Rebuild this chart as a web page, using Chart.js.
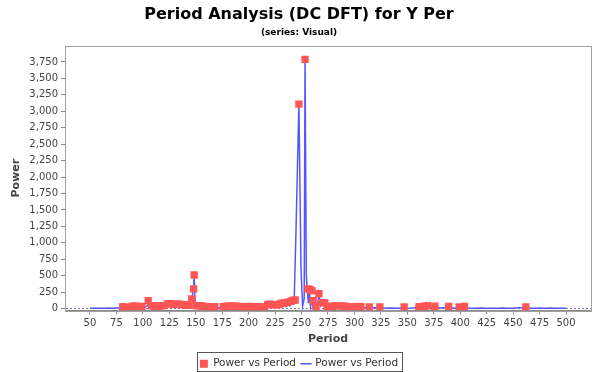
<!DOCTYPE html>
<html>
<head>
<meta charset="utf-8">
<script src="https://cdn.jsdelivr.net/npm/chart.js@4.4.1/dist/chart.umd.min.js"></script>
<style>
html,body{margin:0;padding:0;background:#fff;}
#wrap{width:600px;height:372px;position:relative;}
</style>
</head>
<body>
<div id="wrap"><canvas id="c" width="600" height="372"></canvas></div>
<script>
// ---- data ----
const chartTitle = "Period Analysis (DC DFT) for Y Per";
const chartSubtitle = "(series: Visual)";
const seriesLabel = "Power vs Period";

// red square points
const pointPeriods = [81,84,90,93,96,99,105,108,111,114,117,120,123,126,129,132,135,138,141,143,146.1,148,148.5,150,153,156,159,162,165,168,
  176,179,182,185,188,191,194,197,200,203,206,209,212,215,218,220,222,224,226,228,230,232,234,237,240,242,244,247.5,253.3,
  256,258,259.8,261,263.6,266.4,269.2,272,274,279,282,285,288,291,294,300,303,306,314,324,347,361,366,369,376,389,399,404,462];
const pointPower = [28,22,35,38,30,32,120,45,35,40,38,45,70,72,60,70,65,55,50,55,147,300,510,45,40,38,32,30,30,28,
  30,35,40,38,35,33,30,30,32,30,30,30,28,30,60,65,60,60,55,60,75,80,85,95,110,125,130,3110,3790,
  300,290,270,120,30,225,90,85,30,35,40,40,40,35,30,30,32,30,25,25,25,28,35,42,35,32,25,32,25];

// blue line points
const linePeriods = [50,53,56,59,62,65,68,71,74,77,80,83,86,89,92,95,98,101,104,106,108,111,114,117,120,123,126,129,132,135,138,141,143,145,
  146.1,148,148.5,149.5,151,153,156,159,162,165,168,171,173,176,179,182,185,188,191,194,197,200,203,206,209,212,215,218,221,224,227,229,
  231,233,235,237,239,241,243,244.7,247.5,249.5,251,252.5,253.3,254.5,255.5,256.5,257.5,258.5,259.5,261,262,263.5,265,266.4,268,270,272,
  274,276,279,282,285,288,291,294,297,300,303,306,310,314,318,322,326,330,335,340,345,350,355,360,365,370,375,380,385,390,395,400,405,
  410,415,420,425,430,435,440,445,450,455,460,465,470,475,480,485,490,495,500];
const linePower = [4,3,5,4,6,5,8,6,9,7,12,9,14,10,16,12,18,14,40,90,30,18,22,15,25,30,40,28,35,30,25,20,30,45,
  147,300,510,45,25,18,22,15,20,12,18,5,10,15,20,14,22,16,20,15,22,14,18,12,16,10,14,30,20,35,25,40,
  20,45,30,60,40,80,110,1150,3110,600,40,150,3790,500,270,80,250,30,120,20,60,10,30,220,40,80,20,
  50,10,25,15,20,12,18,10,15,12,14,8,12,6,10,8,12,6,8,5,9,6,8,12,15,18,10,8,12,10,6,10,12,
  6,5,8,4,6,5,8,4,6,10,12,6,4,7,5,8,6,4,3];

const xTicks = [50,75,100,125,150,175,200,225,250,275,300,325,350,375,400,425,450,475,500];
const yTicks = [0,250,500,750,1000,1250,1500,1750,2000,2250,2500,2750,3000,3250,3500,3750];

const FONT = "'DejaVu Sans', sans-serif";

const plotBorder = {
  id: 'plotBorder',
  afterDraw(chart) {
    const a = chart.chartArea, ctx = chart.ctx;
    ctx.save();
    ctx.strokeStyle = '#a0a0a0';
    ctx.lineWidth = 1;
    ctx.strokeRect(Math.round(a.left) + 0.5, Math.round(a.top) + 0.5, Math.round(a.right - a.left), Math.round(a.bottom - a.top));
    ctx.restore();
  }
};
const legendBorder = {
  id: 'legendBorder',
  afterDraw(chart) {
    const boxes = chart.legend && chart.legend.legendHitBoxes;
    if (!boxes || !boxes.length) return;
    let l = Infinity, t = Infinity, r = -Infinity, b = -Infinity;
    boxes.forEach(h => { l = Math.min(l, h.left); t = Math.min(t, h.top); r = Math.max(r, h.left + h.width); b = Math.max(b, h.top + h.height); });
    const cy = (t + b) / 2;
    const ctx = chart.ctx;
    ctx.save();
    ctx.strokeStyle = '#555';
    ctx.lineWidth = 1;
    ctx.strokeRect(Math.round(l - 3) + 0.5, Math.round(cy - 12) + 0.5, Math.round(r - l + 7), 19);
    ctx.restore();
  }
};

new Chart(document.getElementById('c'), {
  type: 'line',
  data: {
    datasets: [
      {
        label: seriesLabel,
        type: 'scatter',
        data: pointPeriods.map((p, i) => ({x: p, y: pointPower[i]})),
        pointStyle: 'rect',
        pointRadius: 5.2,
        pointHoverRadius: 5.2,
        backgroundColor: '#ff5555',
        borderColor: '#ff5555',
        borderWidth: 0,
        showLine: false
      },
      {
        label: seriesLabel,
        type: 'line',
        data: linePeriods.map((p, i) => ({x: p, y: linePower[i]})),
        borderColor: '#5555ff',
        backgroundColor: '#5555ff',
        borderWidth: 1.5,
        pointRadius: 0,
        pointStyle: 'line',
        tension: 0,
        fill: false
      }
    ]
  },
  options: {
    responsive: false,
    animation: false,
    layout: {padding: {left: 7, right: 9, top: 0, bottom: -7}},
    plugins: {
      title: {display: true, text: chartTitle, color: '#000', font: {family: FONT, size: 16, weight: 'bold'}, padding: {top: 5, bottom: 3}},
      subtitle: {display: true, text: chartSubtitle, color: '#000', font: {family: FONT, size: 9, weight: 'bold'}, padding: {top: 0, bottom: 8}},
      legend: {
        position: 'bottom',
        labels: {usePointStyle: true, boxWidth: 8, boxHeight: 8, color: '#333', font: {family: FONT, size: 10.5}, padding: 6}
      },
      tooltip: {enabled: false}
    },
    scales: {
      x: {
        type: 'linear',
        min: 26.4, max: 523.6,
        afterBuildTicks: s => { s.ticks = xTicks.map(v => ({value: v})); },
        afterFit: s => { s.height = 42; },
        ticks: {color: '#444', font: {family: FONT, size: 10}, padding: 3, maxRotation: 0, autoSkip: false},
        grid: {drawOnChartArea: false, tickLength: 4, color: '#888'},
        border: {color: '#888'},
        title: {display: true, text: 'Period', color: '#444', font: {family: FONT, size: 11, weight: 'bold'}, padding: {top: 0, bottom: 7}}
      },
      y: {
        type: 'linear',
        min: -30, max: 3993,
        afterBuildTicks: s => { s.ticks = yTicks.map(v => ({value: v})); },
        afterFit: s => { s.width = 58; },
        ticks: {color: '#444', font: {family: FONT, size: 10}, padding: 3, autoSkip: false,
          callback: v => v.toLocaleString('en-US')},
        grid: {drawOnChartArea: true, tickLength: 4,
          color: c => (c.tick && c.tick.value === 0) ? '#7777aa' : 'rgba(0,0,0,0)',
          tickColor: '#888'},
        border: {color: '#888', dash: [2, 2]},
        title: {display: true, text: 'Power', color: '#444', font: {family: FONT, size: 11, weight: 'bold'}, padding: {top: 3, bottom: 0}}
      }
    }
  },
  plugins: [plotBorder, legendBorder]
});
</script>
</body>
</html>
